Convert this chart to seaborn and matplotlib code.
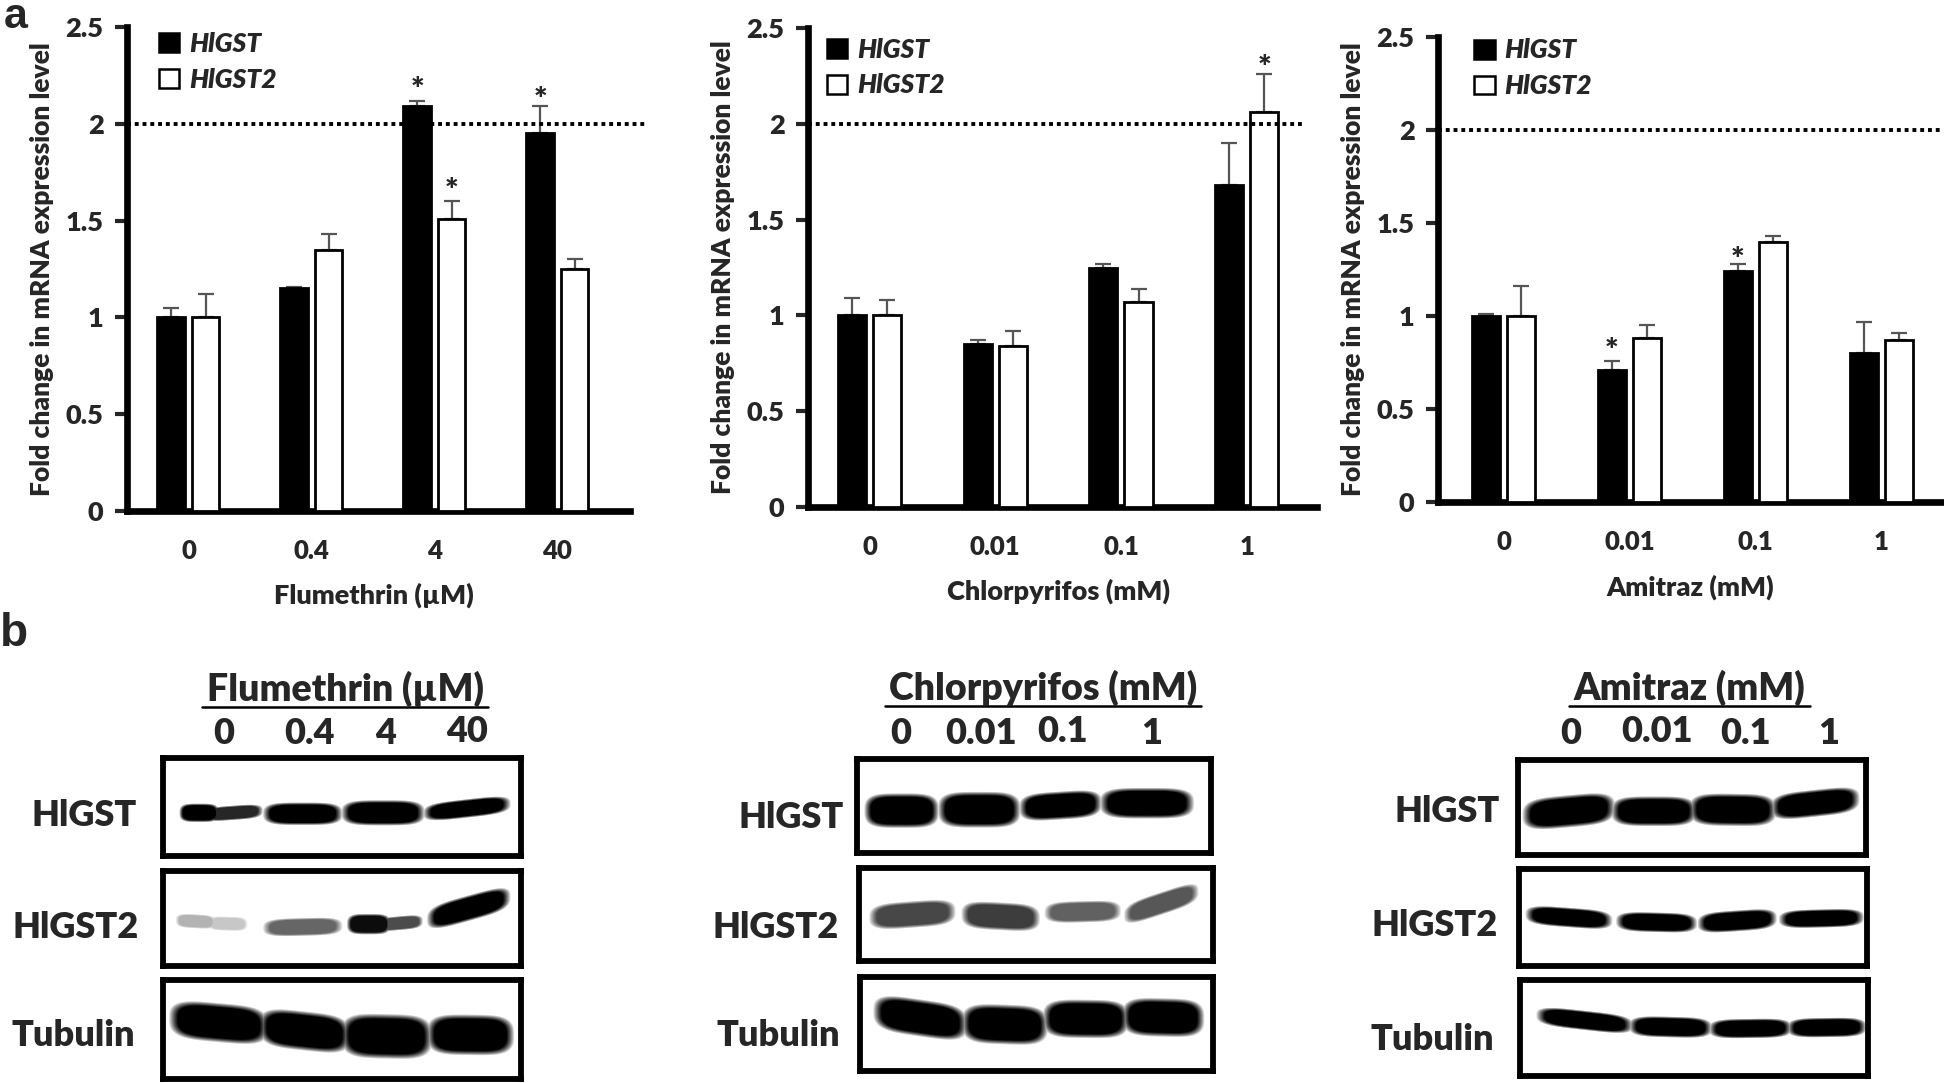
import numpy as np
import pandas as pd
import matplotlib
matplotlib.use('Agg')
import matplotlib.pyplot as plt
from matplotlib.lines import Line2D
import seaborn as sns

genes = ['HlGST', 'HlGST2']
yticks = [0, 0.5, 1, 1.5, 2, 2.5]
ytick_labels = ['0', '0.5', '1', '1.5', '2', '2.5']

# qPCR panels
flu_doses = ['0', '0.4', '4', '40']
flu_gst = [1.0, 1.15, 2.09, 1.95]
flu_gst2 = [1.0, 1.35, 1.51, 1.25]
flu_gst_err = [0.05, 0.005, 0.03, 0.14]
flu_gst2_err = [0.12, 0.08, 0.09, 0.05]
flu_stars = [(2, 0, 2.17), (2, 1, 1.65), (3, 0, 2.12)]

chl_doses = ['0', '0.01', '0.1', '1']
chl_gst = [1.0, 0.85, 1.25, 1.68]
chl_gst2 = [1.0, 0.84, 1.07, 2.06]
chl_gst_err = [0.09, 0.02, 0.02, 0.22]
chl_gst2_err = [0.08, 0.08, 0.07, 0.2]
chl_stars = [(3, 1, 2.29)]

ami_doses = ['0', '0.01', '0.1', '1']
ami_gst = [1.0, 0.71, 1.24, 0.8]
ami_gst2 = [1.0, 0.88, 1.4, 0.87]
ami_gst_err = [0.01, 0.05, 0.04, 0.17]
ami_gst2_err = [0.16, 0.07, 0.03, 0.04]
ami_stars = [(1, 0, 0.81), (2, 0, 1.30)]

# western blot bands: x start, x end, y left, y right, thickness, darkness (fractions of the box)
flu_blot_gst = [(.05, .15, .56, .56, .14, 1), (.12, .27, .58, .54, .11, .85), (.29, .49, .57, .57, .17, 1),
                (.51, .72, .56, .56, .19, 1), (.74, .96, .56, .47, .14, 1)]
flu_blot_gst2 = [(.04, .14, .52, .54, .11, .3), (.13, .23, .55, .56, .11, .22), (.29, .49, .60, .58, .14, .6),
                 (.52, .63, .56, .56, .16, .95), (.60, .72, .57, .53, .11, .7), (.75, .96, .50, .28, .2, 1)]
flu_blot_tub = [(.03, .28, .39, .47, .29, 1), (.28, .51, .47, .56, .29, 1), (.51, .74, .56, .58, .33, 1),
                (.75, .97, .55, .56, .3, 1)]

chl_blot_gst = [(.03, .22, .55, .55, .27, 1), (.24, .45, .54, .54, .28, 1), (.47, .68, .52, .47, .22, 1),
                (.70, .94, .47, .47, .24, 1)]
chl_blot_gst2 = [(.04, .26, .53, .47, .21, .72), (.30, .50, .50, .54, .22, .76), (.535, .73, .48, .46, .17, .62),
                 (.76, .95, .50, .26, .18, .66)]
chl_blot_tub = [(.05, .29, .37, .50, .29, 1), (.30, .52, .49, .52, .31, 1), (.53, .75, .44, .45, .3, 1),
                (.755, .965, .42, .44, .3, 1)]

ami_blot_gst = [(.025, .265, .58, .50, .25, 1), (.28, .50, .54, .54, .23, 1), (.505, .73, .52, .53, .25, 1),
                (.74, .97, .50, .41, .21, 1)]
ami_blot_gst2 = [(.03, .255, .47, .53, .15, 1), (.29, .50, .54, .56, .15, 1), (.525, .73, .56, .51, .16, 1),
                 (.76, .98, .52, .50, .14, 1)]
ami_blot_tub = [(.06, .31, .37, .47, .15, 1), (.325, .54, .48, .50, .16, 1), (.555, .77, .51, .50, .15, 1),
                (.78, .985, .50, .49, .15, 1)]

W, H = 1944, 1083
BOLD = 'heavy'
sns.set_theme(style='white')
plt.rcParams['font.family'] = ['Lato', 'DejaVu Sans']
plt.rcParams['font.weight'] = BOLD
fig = plt.figure(figsize=(W / 100, H / 100), dpi=100, facecolor='white')


def px_axes(x0, y0, x1, y1):
    return fig.add_axes([x0 / W, 1 - y1 / H, (x1 - x0) / W, (y1 - y0) / H])


def label(x, y, s, size, **kw):
    weight = kw.pop('fontweight', BOLD)
    fig.text(x / W, 1 - y / H, s, fontsize=size, ha=kw.pop('ha', 'center'), va='center', fontweight=weight, **kw)


def bar_panel(box, xlim, doses, gst, gst2, gst_err, gst2_err, stars, xlabel, line_end, legend_xy, xlabel_pad, xlabel_x):
    ax = px_axes(*box)
    df = pd.DataFrame({
        'dose': doses * 2,
        'fold': gst + gst2,
        'gene': [genes[0]] * 4 + [genes[1]] * 4,
    })
    sns.barplot(data=df, x='dose', y='fold', hue='gene', palette=['black', 'white'], edgecolor='black',
                linewidth=2, width=0.56, gap=0.2, ax=ax, legend=False, zorder=3)
    ax.set_xlim(*xlim)
    ax.set_ylim(0, 2.5)
    ax.set_yticks(yticks, ytick_labels)
    ax.tick_params(axis='y', length=9, width=3, labelsize=19.5, pad=8, left=True)
    ax.tick_params(axis='x', length=0, labelsize=18.5, pad=20)
    ax.set_xlabel(xlabel, fontsize=19.5, fontweight=BOLD, labelpad=xlabel_pad, x=xlabel_x)
    ax.set_ylabel('Fold change in mRNA expression level', fontsize=19, fontweight=BOLD, labelpad=8)
    for s in ['top', 'right']:
        ax.spines[s].set_visible(False)
    for s in ['left', 'bottom']:
        ax.spines[s].set_linewidth(4.8)
        ax.spines[s].set_color('black')

    # upper error bars and significance marks
    for cont, err in zip(ax.containers, [gst_err, gst2_err]):
        xs = [p.get_x() + p.get_width() / 2 for p in cont]
        hs = [p.get_height() for p in cont]
        ax.errorbar(xs, hs, yerr=[[0] * 4, err], fmt='none', ecolor='#555555', elinewidth=1.6,
                    capsize=5.5, capthick=1.6, zorder=2)
    for i, j, y in stars:
        p = ax.containers[j][i]
        ax.text(p.get_x() + p.get_width() / 2, y, '*', ha='center', va='center', fontsize=23, fontweight=BOLD,
                zorder=5)

    ax.plot([0, line_end], [2, 2], transform=ax.get_yaxis_transform(), color='black', lw=2.8,
            ls=(0, (1, 1)), clip_on=False, zorder=4)

    handles = [plt.Rectangle((0, 0), 1, 1, fc=c, ec='black', lw=1.8) for c in ['black', 'white']]
    ax.legend(handles, genes, loc='upper left', bbox_to_anchor=legend_xy, frameon=False, handlelength=0.78,
              handleheight=0.72, handletextpad=0.36, labelspacing=0.45, borderpad=0, borderaxespad=0,
              prop={'size': 19, 'weight': BOLD, 'style': 'italic'})
    return ax


def blot(box, bands):
    x0, y0, x1, y1 = box
    ny, nx = int(y1 - y0), int(x1 - x0)
    yy, xx = np.mgrid[0:1:ny * 1j, 0:1:nx * 1j]
    signal = np.zeros_like(xx)
    for xa, xb, yl, yr, th, dark in bands:
        cx, hw = (xa + xb) / 2, (xb - xa) / 2
        yc = yl + (yr - yl) * (xx - xa) / (xb - xa)
        d = (np.abs(xx - cx) / hw) ** 4 + (np.abs(yy - yc) / (th * 0.6)) ** 3
        signal = np.maximum(signal, dark * np.clip((1.6 - d) / 0.9, 0, 1))
    ax = px_axes(*box)
    sns.heatmap(1 - signal, cmap='gray', vmin=0, vmax=1, cbar=False, xticklabels=False, yticklabels=False, ax=ax)
    for s in ax.spines.values():
        s.set_visible(True)
        s.set_color('black')
        s.set_linewidth(4.2)


bar_panel((127, 27, 630, 511), (-0.5, 3.59), flu_doses, flu_gst, flu_gst2, flu_gst_err, flu_gst2_err,
          flu_stars, 'Flumethrin (µM)', 1.035, (0.063, 0.99), 14, 0.49)
bar_panel((808, 28, 1317, 507), (-0.49, 3.56), chl_doses, chl_gst, chl_gst2, chl_gst_err, chl_gst2_err,
          chl_stars, 'Chlorpyrifos (mM)', 0.97, (0.037, 0.98), 14, 0.493)
bar_panel((1438, 37, 1942, 502), (-0.52, 3.48), ami_doses, ami_gst, ami_gst2, ami_gst_err, ami_gst2_err,
          ami_stars, 'Amitraz (mM)', 1.0, (0.072, 0.997), 15, 0.5)

blot((163, 758, 521, 856), flu_blot_gst)
blot((163, 871, 521, 966), flu_blot_gst2)
blot((163, 980, 521, 1079), flu_blot_tub)
blot((857, 759, 1211, 853), chl_blot_gst)
blot((859, 868, 1213, 961), chl_blot_gst2)
blot((860, 977, 1213, 1071), chl_blot_tub)
blot((1518, 760, 1866, 855), ami_blot_gst)
blot((1519, 869, 1867, 966), ami_blot_gst2)
blot((1520, 980, 1868, 1076), ami_blot_tub)

# panel letters
label(16, 17, 'a', 31, family='Liberation Sans', fontweight='bold')
label(14, 634, 'b', 33, family='Liberation Sans', fontweight='bold')

# blot headings and lane labels
for x, y, s, x0, x1 in [(345, 689, 'Flumethrin (µM)', 202, 488), (1043, 688, 'Chlorpyrifos (mM)', 885, 1201),
                        (1689, 688, 'Amitraz (mM)', 1569, 1810)]:
    label(x, y, s, 27)
    fig.add_artist(Line2D([x0 / W, x1 / W], [1 - (y + 18) / H] * 2, color='black', lw=1.8))

for x, y, s in [(224, 733, '0'), (309, 733, '0.4'), (386, 733, '4'), (467, 731, '40'),
                (901, 733, '0'), (981, 733, '0.01'), (1063, 731, '0.1'), (1152, 733, '1'),
                (1571, 733, '0'), (1657, 731, '0.01'), (1746, 734, '0.1'), (1829, 734, '1')]:
    label(x, y, s, 26)

for x, y, s in [(84, 815, 'HlGST'), (76, 928, 'HlGST2'), (73, 1035, 'Tubulin'),
                (791, 817, 'HlGST'), (776, 928, 'HlGST2'), (778, 1035, 'Tubulin'),
                (1447, 812, 'HlGST'), (1435, 926, 'HlGST2'), (1432, 1039, 'Tubulin')]:
    label(x, y, s, 26)

fig.savefig('out.png', dpi=100, facecolor='white')
